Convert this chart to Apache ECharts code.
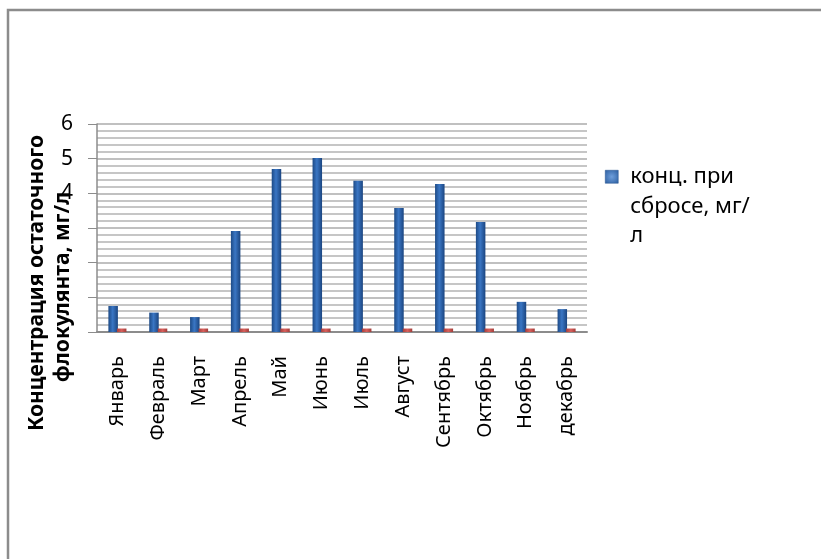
<!DOCTYPE html>
<html>
<head>
<meta charset="utf-8">
<script src="https://cdn.jsdelivr.net/npm/echarts@6/dist/echarts.min.js"></script>
<style>
    html, body { margin: 0; padding: 0; background: #fff; }
    #chart { width: 821px; height: 559px; }
</style>
</head>
<body>
<div id="chart"></div>
<script>
// Data
const months = ['Январь', 'Февраль', 'Март', 'Апрель', 'Май', 'Июнь',
    'Июль', 'Август', 'Сентябрь', 'Октябрь', 'Ноябрь', 'декабрь'];
const dischargeName = 'конц. при\nсбросе, мг/\nл';
const dischargeValues = [0.75, 0.56, 0.43, 2.91, 4.70, 5.02, 4.36, 3.58, 4.27, 3.17, 0.87, 0.66];
const secondName = 'Ряд2';
const secondValues = [0.1, 0.1, 0.1, 0.1, 0.1, 0.1, 0.1, 0.1, 0.1, 0.1, 0.1, 0.1];
const yTicks = [6, 5, 4];

const fontFamily = '"Noto Sans", "Liberation Sans", sans-serif';

const chart = echarts.init(document.getElementById('chart'));

const blueFill = new echarts.graphic.LinearGradient(0, 0, 1, 0, [
    { offset: 0, color: '#1d4a86' },
    { offset: 0.45, color: '#3a76c4' },
    { offset: 1, color: '#1b4580' }
]);
const redFill = new echarts.graphic.LinearGradient(0, 0, 1, 0, [
    { offset: 0, color: '#a8403d' },
    { offset: 0.5, color: '#d9605c' },
    { offset: 1, color: '#a03c39' }
]);
const iconFill = new echarts.graphic.RadialGradient(0.5, 0.5, 0.7, [
    { offset: 0, color: '#6f9fdc' },
    { offset: 1, color: '#2a5c9e' }
]);

const option = {
    animation: false,
    textStyle: { fontFamily: fontFamily },
    grid: { left: 97, right: 234, top: 124, bottom: 227 },
    legend: {
        data: [dischargeName],
        left: 600,
        top: 98,
        orient: 'vertical',
        itemWidth: 13,
        itemHeight: 13,
        itemGap: 0,
        icon: 'rect',
        itemStyle: { color: iconFill, borderColor: '#24528f', borderWidth: 0.5 },
        // two blank lines above keep the icon level with the first text line
        formatter: function (name) {
            return '\n\n' + name.split('\n').map(function (s) {
                return '{t|' + s + '}';
            }).join('\n');
        },
        textStyle: {
            fontFamily: fontFamily,
            fontSize: 22,
            color: '#000',
            lineHeight: 29.5,
            rich: {
                t: { fontSize: 22, lineHeight: 29.5, padding: [0, 0, 0, 7], color: '#000' }
            }
        }
    },
    xAxis: {
        type: 'category',
        data: months,
        axisLine: { lineStyle: { color: '#8c8c8c', width: 2 } },
        axisTick: { show: false },
        axisLabel: {
            rotate: 90,
            interval: 0,
            margin: 24,
            color: '#000',
            fontSize: 20,
            fontFamily: fontFamily
        }
    },
    yAxis: {
        type: 'value',
        min: 0,
        max: 6,
        interval: 1,
        axisLine: { show: true, lineStyle: { color: '#8c8c8c', width: 1.5 } },
        axisTick: { show: true, inside: false, length: 9, lineStyle: { color: '#8c8c8c' } },
        axisLabel: {
            margin: 24,
            color: '#000',
            fontSize: 21,
            fontFamily: fontFamily,
            formatter: function (v) {
                return yTicks.indexOf(v) >= 0 ? String(v) : '';
            }
        },
        splitLine: { show: true, lineStyle: { color: '#ababab', width: 1.5 } },
        minorTick: { show: false, splitNumber: 5 },
        minorSplitLine: { show: true, lineStyle: { color: '#b4b4b4', width: 1.5 } }
    },
    series: [{
        name: dischargeName,
        type: 'bar',
        data: dischargeValues,
        barWidth: 9.5,
        barGap: '-10%',
        itemStyle: { color: blueFill }
    }, {
        name: secondName,
        type: 'bar',
        data: secondValues,
        barWidth: 9.5,
        itemStyle: { color: redFill }
    }],
    graphic: [{
        type: 'rect',
        shape: { x: 8, y: 10, width: 1000, height: 800 },
        style: { fill: 'none', stroke: '#8c8c8c', lineWidth: 2.5 },
        silent: true
    }, {
        type: 'text',
        x: 37,
        y: 283,
        rotation: Math.PI / 2,
        style: {
            text: 'Концентрация остаточного',
            font: 'bold 21px ' + fontFamily,
            fill: '#000',
            textAlign: 'center',
            textVerticalAlign: 'middle'
        }
    }, {
        type: 'text',
        x: 63,
        y: 287,
        rotation: Math.PI / 2,
        style: {
            text: 'флокулянта, мг/л',
            font: 'bold 21px ' + fontFamily,
            fill: '#000',
            textAlign: 'center',
            textVerticalAlign: 'middle'
        }
    }]
};

chart.setOption(option);
</script>
</body>
</html>
